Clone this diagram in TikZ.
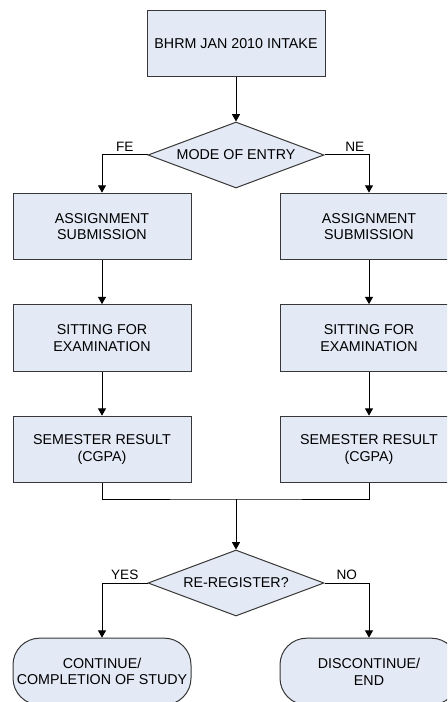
\documentclass[tikz,border=0pt]{standalone}
\usepackage{fontspec}
\setmainfont{Liberation Sans}
\usetikzlibrary{arrows.meta,shapes.geometric}
\definecolor{boxfill}{RGB}{227,233,245}
\definecolor{edge}{RGB}{55,55,55}
\tikzset{
  box/.style={rectangle, draw=edge, fill=boxfill, line width=0.75pt,
    align=center, font=\fontsize{10.7}{12.5}\selectfont, inner sep=1pt,
    minimum width=133.5pt, minimum height=50pt},
  decision/.style={diamond, aspect=2.67, draw=edge, fill=boxfill, line width=0.75pt,
    align=center, font=\fontsize{10.7}{12.5}\selectfont, inner sep=1pt,
    minimum width=132pt, minimum height=49.5pt},
  term/.style={box, rounded corners=20pt},
  flow/.style={-{Triangle[length=5.5pt,width=6pt]}, line width=0.75pt},
  lbl/.style={above, font=\fontsize{10.2}{12}\selectfont, inner sep=2.5pt},
}
\begin{document}
\begin{tikzpicture}[x=0.75pt, y=-0.75pt]
\clip (0,0) rectangle (447,702);
% Intake and entry decision
\node[box]      (intake) at (236,43.5) {BHRM JAN 2010 INTAKE};
\node[decision] (mode)   at (236,155)  {MODE OF ENTRY};
% FE column
\node[box] (assignL) at (102,226.5) {ASSIGNMENT \\ SUBMISSION};
\node[box] (examL)   at (102,338)   {SITTING FOR \\ EXAMINATION};
\node[box] (resultL) at (102,449.5) {SEMESTER RESULT \\ (CGPA)};
% NE column
\node[box] (assignR) at (369,226.5) {ASSIGNMENT \\ SUBMISSION};
\node[box] (examR)   at (369,338)   {SITTING FOR \\ EXAMINATION};
\node[box] (resultR) at (369,449.5) {SEMESTER RESULT \\ (CGPA)};
% Re-registration and outcomes
\coordinate (merge) at (236,499);
\node[decision] (rereg) at (236,583) {RE-REGISTER?};
\node[term] (cont) at (102,671.5) {CONTINUE/ \\ COMPLETION OF STUDY};
\node[term] (disc) at (369,671.5) {DISCONTINUE/ \\ END};
% Connectors
\draw[flow] (intake) -- (mode);
\draw[flow] (mode.west) -| (assignL) node[lbl, pos=0.25] {FE};
\draw[flow] (mode.east) -| (assignR) node[lbl, pos=0.34] {NE};
\draw[flow] (assignL) -- (examL);
\draw[flow] (examL)   -- (resultL);
\draw[flow] (assignR) -- (examR);
\draw[flow] (examR)   -- (resultR);
\draw[line width=0.75pt] (resultL) |- (merge) -| (resultR);
\draw[flow] (merge) -- (rereg);
\draw[flow] (rereg.west) -| (cont) node[lbl, pos=0.25] {YES};
\draw[flow] (rereg.east) -| (disc) node[lbl, pos=0.25] {NO};
\end{tikzpicture}
\end{document}
